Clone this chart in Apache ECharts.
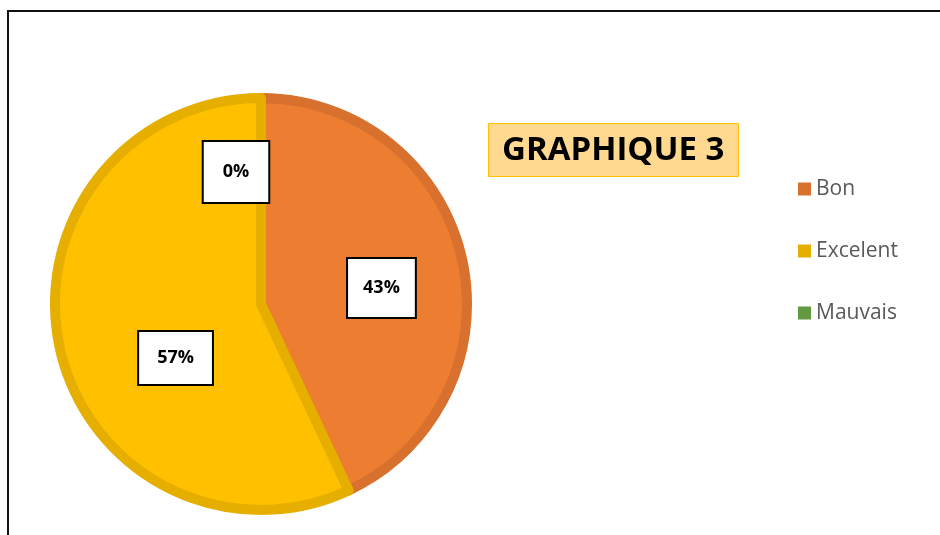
<!DOCTYPE html>
<html>
<head>
<meta charset="utf-8">
<script src="https://cdn.jsdelivr.net/npm/echarts@6/dist/echarts.min.js"></script>
<style>
  html, body { margin: 0; padding: 0; background: #fff; }
  #chart { width: 940px; height: 535px; }
</style>
</head>
<body>
<div id="chart"></div>
<script>
const categories = ['Bon', 'Excelent', 'Mauvais'];
const values = [43, 57, 0];
const fills = ['#ED7D31', '#FFC000', '#70AD47'];
const borders = ['#D8702E', '#E6AF00', '#63993F'];
// label box nudges so the boxes sit where Excel put them
const labelOffsets = [[17, 7], [18, 31], [-25, -26]];
const labelPads = [[20, 15], [17, 18], [21, 19]];

const chart = echarts.init(document.getElementById('chart'));

chart.setOption({
    animation: false,
    title: {
        text: 'GRAPHIQUE 3',
        left: 488,
        top: 123,
        padding: [11, 14, 10, 14],
        backgroundColor: '#FFD98F',
        borderColor: '#FFC000',
        borderWidth: 1,
        textStyle: {
            fontFamily: 'Open Sans',
            fontWeight: 'bold',
            fontSize: 33,
            color: '#000'
        }
    },
    legend: {
        orient: 'vertical',
        left: 798,
        top: 178,
        padding: 0,
        itemWidth: 13,
        itemHeight: 13,
        itemGap: 40,
        icon: 'rect',
        textStyle: {
            fontFamily: 'Open Sans',
            fontSize: 21,
            lineHeight: 22,
            color: '#595959'
        },
        data: categories.map((c, i) => ({
            name: c,
            itemStyle: { color: borders[i], borderWidth: 0 }
        }))
    },
    graphic: [{
        type: 'polyline',
        silent: true,
        shape: { points: [[8, 540], [8, 11], [945, 11]] },
        style: { stroke: '#111', lineWidth: 2, fill: null }
    }],
    series: [{
        type: 'pie',
        center: [261, 304],
        radius: 206,
        startAngle: 90,
        clockwise: true,
        percentPrecision: 0,
        silent: true,
        label: {
            show: true,
            position: 'inside',
            formatter: '{d}%',
            fontFamily: 'Open Sans',
            fontWeight: 'bold',
            fontSize: 18,
            color: '#000',
            backgroundColor: '#fff',
            borderColor: '#000',
            borderWidth: 2
        },
        labelLine: { show: false },
        data: categories.map((c, i) => ({
            name: c,
            value: values[i],
            itemStyle: {
                color: fills[i],
                borderColor: borders[i],
                borderWidth: values[i] > 0 ? 10 : 0
            },
            label: {
                offset: labelOffsets[i],
                padding: labelPads[i]
            }
        }))
    }]
});
</script>
</body>
</html>
